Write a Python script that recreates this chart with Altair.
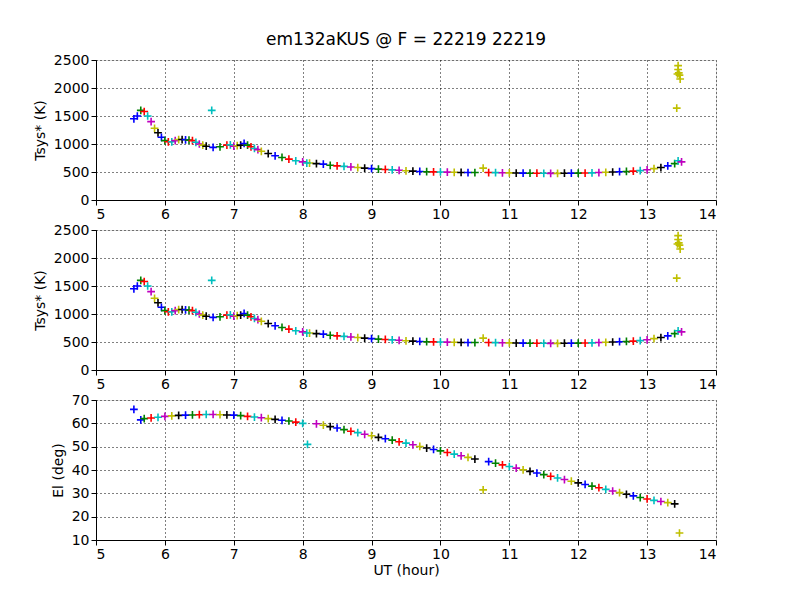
import altair as alt
import pandas as pd

colors = ["#0000ff", "#008000", "#ff0000", "#00bfbf", "#bf00bf", "#bfbf00", "#000000"]
cnames = ["b", "g", "r", "c", "m", "y", "k"]

t_times = [5.6, 5.65, 5.7, 5.75, 5.8, 5.85, 5.9, 5.95, 6.0, 6.05, 6.1, 6.15, 6.2, 6.25, 6.3, 6.35, 6.4, 6.45, 6.5,
           6.55, 6.6, 6.7, 6.8, 6.9, 6.95, 7.0, 7.05, 7.1, 7.15, 7.2, 7.25, 7.3, 7.35, 7.4, 7.5, 7.6, 7.7, 7.8, 7.9,
           8.0, 8.1, 8.2, 8.3, 8.4, 8.5, 8.6, 8.7, 8.8, 8.9, 9.0, 9.1, 9.2, 9.3, 9.4, 9.5, 9.6, 9.7, 9.8, 9.9,
           10.0, 10.1, 10.2, 10.3, 10.4, 10.5, 10.7, 10.8, 10.9, 11.0, 11.1, 11.2, 11.3, 11.4, 11.5, 11.6, 11.7,
           11.8, 11.9, 12.0, 12.1, 12.2, 12.3, 12.4, 12.5, 12.6, 12.7, 12.8, 12.9, 13.0, 13.1, 13.2, 13.3, 13.4]
tsys = [1500, 1600, 1580, 1500, 1400, 1280, 1200, 1120, 1060, 1040, 1040, 1060, 1080, 1080, 1075, 1070, 1060, 1030,
        1000, 980, 960, 940, 950, 980, 985, 960, 970, 980, 1010, 980, 950, 920, 900, 870, 830, 790, 760, 730, 700,
        680, 660, 650, 640, 620, 610, 600, 590, 580, 570, 560, 552, 545, 538, 530, 522, 515, 510, 505, 502,
        500, 497, 495, 492, 490, 490, 490, 488, 486, 485, 482, 480, 479, 478, 477, 476, 476,
        478, 479, 480, 482, 485, 490, 495, 500, 505, 510, 515, 525, 540, 560, 580, 610, 650]
tsys_out_t = [5.55, 6.68, 8.06, 10.62, 13.45, 13.45, 13.46, 13.47, 13.48, 13.44, 13.43, 13.45, 13.5]
tsys_out_v = [1450, 1600, 660, 570, 2400, 2330, 2270, 2230, 2160, 2250, 1640, 700, 680]
tsys_out_c = ["b", "c", "c", "y", "y", "y", "y", "y", "y", "y", "y", "c", "m"]

el_times = [5.65, 5.7, 5.8, 5.9, 6.0, 6.1, 6.2, 6.3, 6.4, 6.5, 6.6, 6.7, 6.8, 6.9, 7.0, 7.1, 7.2, 7.3, 7.4, 7.5,
            7.6, 7.7, 7.8, 7.9, 8.0, 8.2, 8.3, 8.4, 8.5, 8.6, 8.7, 8.8, 8.9, 9.0, 9.1, 9.2, 9.3, 9.4, 9.5, 9.6,
            9.7, 9.8, 9.9, 10.0, 10.1, 10.2, 10.3, 10.4, 10.5, 10.7, 10.8, 10.9, 11.0, 11.1, 11.2, 11.3, 11.4,
            11.5, 11.6, 11.7, 11.8, 11.9, 12.0, 12.1, 12.2, 12.3, 12.4, 12.5, 12.6, 12.7, 12.8, 12.9, 13.0, 13.1,
            13.2, 13.3, 13.4]
el = [61.5, 62, 62.3, 62.6, 63, 63.2, 63.4, 63.5, 63.6, 63.7, 63.8, 63.8, 63.7, 63.6, 63.5, 63.3, 63, 62.7, 62.4,
      62, 61.7, 61.3, 61, 60.5, 60, 59.8, 59.2, 58.6, 58, 57.3, 56.6, 56, 55.3, 54.7, 54, 53.4, 52.8, 52.1, 51.5,
      50.8, 50.1, 49.4, 48.8, 48.2, 47.5, 46.8, 46.1, 45.4, 44.7, 43.6, 42.9, 42.2, 41.5, 40.8, 40.1, 39.4, 38.7,
      38.0, 37.3, 36.6, 35.9, 35.2, 34.5, 33.8, 33.1, 32.4, 31.7, 31.0, 30.3, 29.6, 28.9, 28.2, 27.6, 27.0,
      26.5, 26.0, 25.5]
el_out_t = [5.55, 8.07, 10.62, 13.47]
el_out_v = [66, 51, 31.5, 13]
el_out_c = ["b", "c", "y", "y"]

font = "DejaVu Sans"
cscale = alt.Scale(domain=cnames, range=colors)
plus = "M-1,0L1,0M0,-1L0,1"


def frame(times, vals, ot, ov, oc):
    rows = [{"t": a, "v": b, "c": cnames[i % 7]} for i, (a, b) in enumerate(zip(times, vals))]
    rows += [{"t": a, "v": b, "c": c} for a, b, c in zip(ot, ov, oc)]
    return pd.DataFrame(rows)


def panel(df, ydom, ytitle, xtitle=None, title=None):
    common = dict(grid=True, gridDash=[1, 3], gridColor="black", gridOpacity=1, labelFontSize=14,
                  titleFontSize=14, titleFont=font, labelFont=font, titleFontWeight="normal",
                  domainColor="black", tickColor="black", labelColor="black", format="d", labelPadding=2)
    xax = alt.Axis(values=list(range(5, 15)), title=xtitle if xtitle else None, titlePadding=2, **common)
    step = 500 if ydom[1] > 100 else 10
    ticks = list(range(ydom[0], ydom[1] + 1, step))
    yax = alt.Axis(values=ticks, title=ytitle, titlePadding=6, **common)
    props = dict(width=620, height=140)
    if title:
        props["title"] = alt.TitleParams(title, font=font, fontSize=17, fontWeight="normal", offset=4)
    return alt.Chart(df).mark_point(shape=plus, size=60, filled=False, strokeWidth=1.6, opacity=1).encode(
        x=alt.X("t:Q", scale=alt.Scale(domain=[5, 14], nice=False), axis=xax),
        y=alt.Y("v:Q", scale=alt.Scale(domain=ydom, nice=False), axis=yax),
        color=alt.Color("c:N", scale=cscale, legend=None),
    ).properties(**props)


df1 = frame(t_times, tsys, tsys_out_t, tsys_out_v, tsys_out_c)
df3 = frame(el_times, el, el_out_t, el_out_v, el_out_c)
p1 = panel(df1, [0, 2500], "Tsys* (K)", title="em132aKUS @ F = 22219 22219")
p2 = panel(df1, [0, 2500], "Tsys* (K)")
p3 = panel(df3, [10, 70], "El (deg)", xtitle="UT (hour)")

chart = alt.vconcat(p1, p2, p3, spacing=0).properties(
    padding={"left": 24, "top": 22, "right": 5, "bottom": 5}
).configure_view(stroke="black", strokeWidth=1).configure(background="white")
chart.save("out.html", embed_options={"renderer": "svg", "actions": False})
